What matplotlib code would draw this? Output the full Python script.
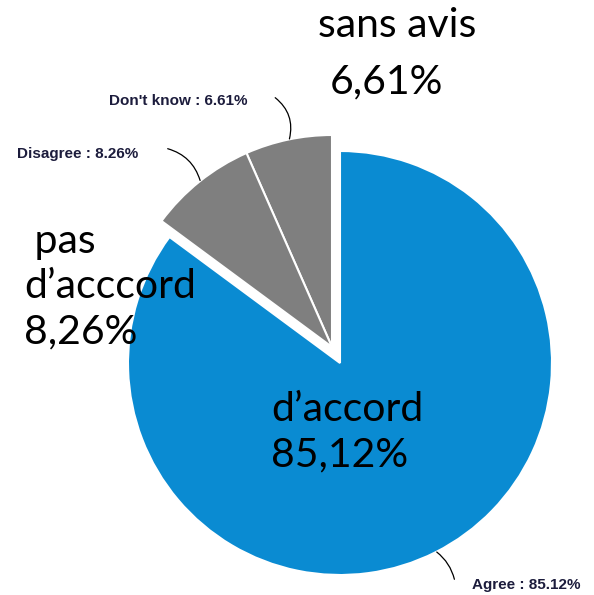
import numpy as np
import matplotlib
matplotlib.use("Agg")
import matplotlib.pyplot as plt

# Data
labels = ["Don't know", "Disagree", "Agree"]
values = [6.61, 8.26, 85.12]
colors = ["#7f7f7f", "#7f7f7f", "#0a8bd2"]
fr_labels = ["sans avis\n6,61%", " pas\nd\u2019acccord\n8,26%", "d\u2019accord\n85,12%"]

W, H = 594, 595
fig = plt.figure(figsize=(W / 100, H / 100), dpi=100)
ax = fig.add_axes([0, 0, 1, 1])
ax.set_xlim(0, W)
ax.set_ylim(0, H)
ax.set_aspect("equal")
ax.axis("off")

r = 212
blue_center = (340, H - 363)
gray_center = (332, H - 347)

# Agree wedge (gray wedges drawn invisible here), then gray group shifted
wedges_blue, _ = ax.pie(values, radius=r, center=blue_center, startangle=90,
                        colors=colors, counterclock=True,
                        wedgeprops=dict(edgecolor="white", linewidth=1.5))
wedges_gray, _ = ax.pie(values, radius=r, center=gray_center, startangle=90,
                        colors=colors, counterclock=True,
                        wedgeprops=dict(edgecolor="white", linewidth=1.5))
for w in wedges_blue[:2]:
    w.set_visible(False)
wedges_gray[2].set_visible(False)
ax.set_xlim(0, W)
ax.set_ylim(0, H)

# Small English labels with leader lines
small_font = dict(family="Liberation Sans", weight="bold", size=11, color="#1c1c3c")
all_wedges = [wedges_gray[0], wedges_gray[1], wedges_blue[2]]
text_pos = [(109, H - 101), (17, H - 154), (472, H - 585)]
rads = [-0.35, -0.3, 0.2]
for i, w in enumerate(all_wedges):
    mid = np.deg2rad((w.theta1 + w.theta2) / 2)
    cx, cy = w.center
    px = cx + 0.99 * w.r * np.cos(mid)
    py = cy + 0.99 * w.r * np.sin(mid)
    tx, ty = text_pos[i]
    txt = f"{labels[i]} : {values[i]:.2f}%"
    t = ax.text(tx, ty, txt, ha="left", va="center", **small_font)
    if i == 0:
        start = (tx + 164, ty + 5)
    elif i == 1:
        start = (tx + 148, ty + 6)
    else:
        start = (tx - 17, ty + 3)
    ax.annotate("", xy=(px, py), xytext=start,
                arrowprops=dict(arrowstyle="-", color="black", lw=0.9,
                                connectionstyle=f"arc3,rad={rads[i]}"))

# Big French overlay labels
big_font = dict(family="Lato", size=29.5, color="black", linespacing=1.27)
ax.text(318, H - 37, "sans avis", ha="left", va="baseline", **big_font)
ax.text(330, H - 93, "6,61%", ha="left", va="baseline", **big_font)
ax.text(24, H - 343, fr_labels[1], ha="left", va="baseline", **big_font)
ax.text(271, H - 466, fr_labels[2], ha="left", va="baseline", **big_font)

fig.savefig("out.png", dpi=100)
